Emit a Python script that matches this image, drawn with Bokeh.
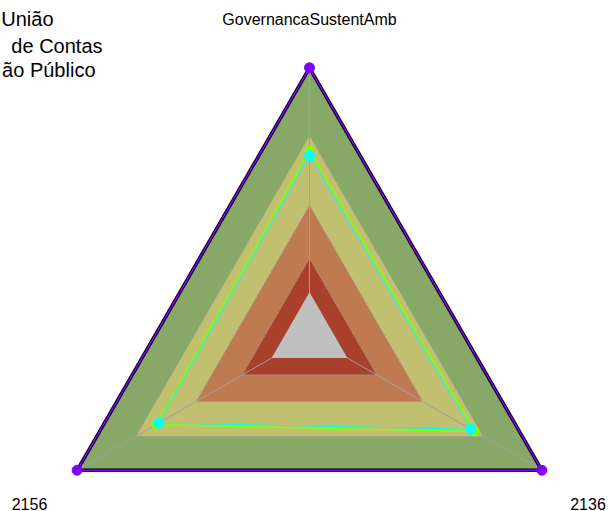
import numpy as np
from bokeh.plotting import figure
from bokeh.models import Range1d
from bokeh.core.properties import value
from bokeh.embed import file_html
from bokeh.resources import INLINE

# ---- data ----
axes_labels = ["GovernancaSustentAmb", "2156", "2136"]
axis_max = 100.0
band_levels = [100.0, 74.8, 48.7, 28.9, 16.3]          # outer -> inner
band_colors = ["#88A868", "#C0C070", "#C07A50", "#A8402C", "#C0C0C0"]
series_names = ["União", "de Contas", "ão Público"]     # visible part of the legend labels
series_max = [100.0, 100.0, 100.0]
series_green = [69.2, 65.9, 71.1]
series_cyan = [67.3, 64.8, 69.4]

# ---- geometry (radar units: radius 1 == axis_max) ----
R_PX = 268.3
CX, CY = 309.0, 335.6
W, H = 609, 511
angles = np.deg2rad([90.0, 210.0, 330.0])


def img_x(ix):
    return (ix - CX) / R_PX


def img_y(iy):
    return (CY - iy) / R_PX


def polar(vals):
    r = np.asarray(vals, dtype=float) / axis_max
    return list(r * np.cos(angles)), list(r * np.sin(angles))


p = figure(width=W, height=H, output_backend="svg", toolbar_location=None,
           x_range=Range1d(img_x(0), img_x(W)),
           y_range=Range1d(img_y(H), img_y(0)),
           min_border=0, outline_line_color=None)
p.axis.visible = False
p.grid.visible = False
p.background_fill_color = "white"
p.border_fill_color = "white"

# bands (all but the innermost)
for lvl, col in zip(band_levels[:-1], band_colors[:-1]):
    xs, ys = polar([lvl] * 3)
    p.patch(xs, ys, fill_color=col, line_color="#9A9A9A", line_width=1, line_alpha=0.5)

# spokes
ox, oy = polar([axis_max] * 3)
p.multi_line([[0, x] for x in ox], [[0, y] for y in oy], line_color="#A0A0A0", line_width=1)

# innermost band on top of the spokes
xs, ys = polar([band_levels[-1]] * 3)
p.patch(xs, ys, fill_color=band_colors[-1], line_color=None)

# outer border
bx, by = polar(series_max)
p.line(bx + [bx[0]], by + [by[0]], line_color="black", line_width=3.5)
p.line(bx + [bx[0]], by + [by[0]], line_color="#7F00FF", line_width=1.5)
p.scatter(bx, by, size=10, fill_color="#7F00FF", line_color="#7F00FF")

# green series
gx, gy = polar(series_green)
p.line(gx + [gx[0]], gy + [gy[0]], line_color="#80FF00", line_width=1.5)
p.scatter(gx, gy, size=9, fill_color="#80FF00", line_color="#80FF00")

# cyan series
cx, cy = polar(series_cyan)
p.line(cx + [cx[0]], cy + [cy[0]], line_color="#00FFFF", line_width=1)
p.scatter(cx, cy, size=10, fill_color="#00FFFF", line_color="#00FFFF")

font = value("Liberation Sans")

# axis labels
p.text(x=[img_x(309)], y=[img_y(18.5)], text=[axes_labels[0]], text_font=font,
       text_font_size="16px", text_align="center", text_baseline="alphabetic", text_color="black")
p.text(x=[img_x(29)], y=[img_y(503)], text=[axes_labels[1]], text_font=font,
       text_font_size="16px", text_align="center", text_baseline="alphabetic", text_color="black")
p.text(x=[img_x(587.5)], y=[img_y(503)], text=[axes_labels[2]], text_font=font,
       text_font_size="16px", text_align="center", text_baseline="alphabetic", text_color="black")

# legend text
leg_right = [53, 102, 95]
leg_base = [18.5, 45.5, 69]
p.text(x=[img_x(v) for v in leg_right], y=[img_y(v) for v in leg_base], text=series_names,
       text_font=font, text_font_size="20px", text_align="right",
       text_baseline="alphabetic", text_color="black")

open("out.html", "w").write(file_html(p, INLINE))
